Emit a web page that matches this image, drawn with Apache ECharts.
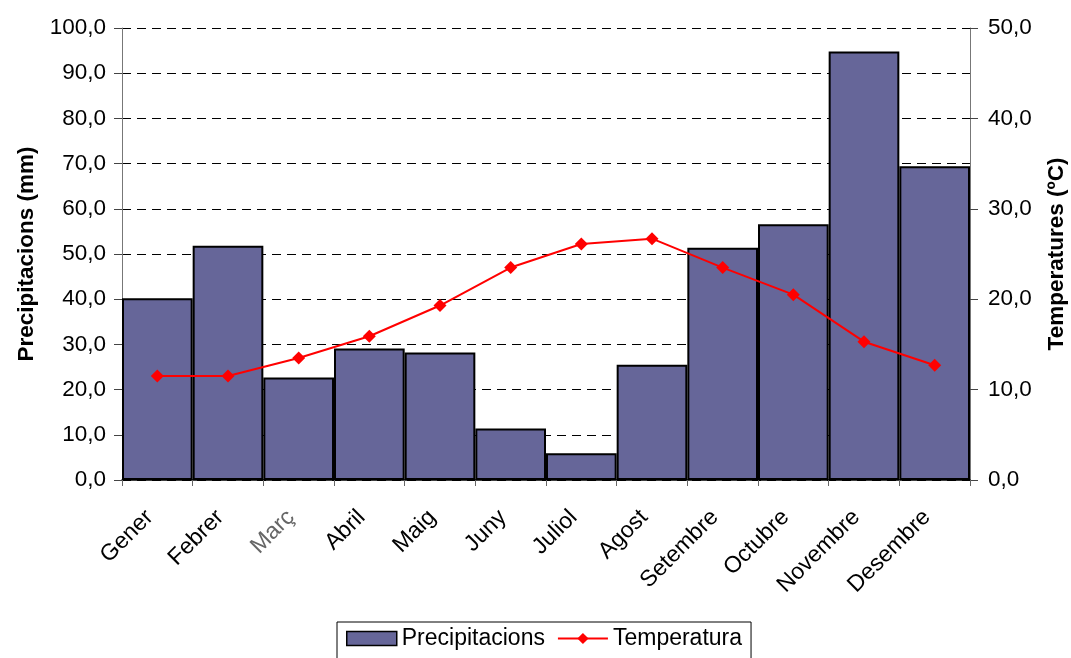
<!DOCTYPE html>
<html>
<head>
<meta charset="utf-8">
<script src="https://cdn.jsdelivr.net/npm/echarts@6/dist/echarts.min.js"></script>
<style>
html,body{margin:0;padding:0;background:#fff;}
#chart{width:1071px;height:658px;}
</style>
</head>
<body>
<div id="chart"></div>
<script>
const months = ['Gener','Febrer','Març','Abril','Maig','Juny','Juliol','Agost','Setembre','Octubre','Novembre','Desembre'];
const precipitacions = [40.2, 51.8, 22.7, 29.1, 28.2, 11.4, 5.9, 25.5, 51.4, 56.6, 94.8, 69.4];
const temperatura = [11.5, 11.5, 13.5, 15.9, 19.3, 23.5, 26.1, 26.7, 23.5, 20.5, 15.3, 12.7];
const fmt = v => v.toFixed(1).replace('.', ',');
const FONT = 'Liberation Sans, Arial, sans-serif';

const chart = echarts.init(document.getElementById('chart'));
chart.setOption({
  animation: false,
  backgroundColor: '#fff',
  textStyle: { fontFamily: FONT },
  grid: { left: 122, right: 101, top: 28, bottom: 178, containLabel: false, outerBoundsMode: 'none' },
  legend: {
    left: 337, top: 622,
    borderColor: '#000', borderWidth: 1,
    padding: [5, 9, 12, 9],
    itemGap: 12,
    textStyle: { fontSize: 23, color: '#000', fontFamily: FONT },
    data: [
      { name: 'Precipitacions', icon: 'rect', itemStyle: { color: '#666699', borderColor: '#000', borderWidth: 1.5 } },
      { name: 'Temperatura' }
    ],
    itemWidth: 50, itemHeight: 14
  },
  xAxis: {
    type: 'category',
    data: months,
    boundaryGap: true,
    axisLine: { lineStyle: { color: '#000', width: 1.5 } },
    axisTick: { show: true, length: 6, lineStyle: { color: '#666' } },
    axisLabel: {
      rotate: 45, fontSize: 23, color: '#000', margin: 26, padding: [0, 11, 0, 0], fontFamily: FONT,
      formatter: v => v === 'Març' ? '{g|' + v + '}' : v,
      rich: { g: { color: '#666', fontSize: 23, fontFamily: FONT } }
    }
  },
  yAxis: [
    {
      type: 'value', min: 0, max: 100, interval: 10,
      name: 'Precipitacions (mm)', nameLocation: 'middle', nameGap: 84,
      nameTextStyle: { fontSize: 22.5, fontWeight: 'bold', color: '#000', fontFamily: FONT },
      axisLine: { show: true, lineStyle: { color: '#777', width: 1 } },
      axisTick: { show: true, length: 8, lineStyle: { color: '#444' } },
      axisLabel: { fontSize: 22.5, color: '#000', formatter: fmt, margin: 16, fontFamily: FONT },
      splitLine: { show: true, lineStyle: { color: '#000', type: [9, 6], width: 1 } }
    },
    {
      type: 'value', min: 0, max: 50, interval: 10, position: 'right',
      name: 'Temperatures (ºC)', nameLocation: 'middle', nameGap: 75,
      nameRotate: 90,
      nameTextStyle: { fontSize: 22.5, fontWeight: 'bold', color: '#000', fontFamily: FONT },
      axisLine: { show: true, lineStyle: { color: '#777', width: 1 } },
      axisTick: { show: true, length: 8, lineStyle: { color: '#444' } },
      axisLabel: { fontSize: 22.5, color: '#000', formatter: fmt, margin: 18, fontFamily: FONT },
      splitLine: { show: false }
    }
  ],
  series: [
    {
      name: 'Precipitacions', type: 'bar', data: precipitacions,
      yAxisIndex: 0, barCategoryGap: '0%',
      itemStyle: { color: '#666699', borderColor: '#000', borderWidth: 2 }
    },
    {
      name: 'Temperatura', type: 'line', data: temperatura,
      yAxisIndex: 1,
      symbol: 'diamond', symbolSize: 13,
      lineStyle: { color: '#ff0000', width: 2 },
      itemStyle: { color: '#ff0000' }
    }
  ]
});
</script>
</body>
</html>
